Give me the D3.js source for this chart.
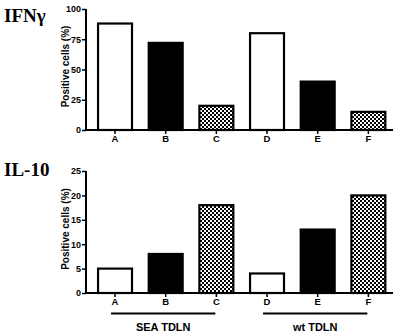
<!DOCTYPE html>
<html>
<head>
<meta charset="utf-8">
<script src="https://cdn.jsdelivr.net/npm/d3@7"></script>
<style>
  body { margin: 0; background: #fff; }
  .tick text { font-family: "Liberation Sans", Arial, sans-serif; font-weight: bold; }
</style>
</head>
<body>
<div id="chart"></div>
<script>
// Data
const categories = ["A", "B", "C", "D", "E", "F"];
const ifngValues = [88, 72, 20, 80, 40, 15];
const il10Values = [5, 8, 18, 4, 13, 20];
const ifngTicks = [0, 25, 50, 75, 100];
const il10Ticks = [0, 5, 10, 15, 20, 25];
const groupLabels = ["SEA TDLN", "wt TDLN"];
const groupSpans = [["A", "C"], ["D", "F"]];

const width = 397;
const height = 335;
const svg = d3.select("#chart").append("svg")
    .attr("width", width)
    .attr("height", height);

// checkered fill
const defs = svg.append("defs");
const pat = defs.append("pattern")
    .attr("id", "check")
    .attr("patternUnits", "userSpaceOnUse")
    .attr("width", 4).attr("height", 4);
pat.append("rect").attr("width", 4).attr("height", 4).attr("fill", "#fff");
pat.append("rect").attr("width", 2).attr("height", 2).attr("fill", "#000");
pat.append("rect").attr("x", 2).attr("y", 2).attr("width", 2).attr("height", 2).attr("fill", "#000");

const fillFor = i => ["#fff", "#000", "url(#check)"][i % 3];

const x = d3.scaleBand()
    .domain(categories)
    .range([89.7, 393.7])
    .paddingInner(0.33)
    .paddingOuter(0.165);

function drawPanel(values, ticks, yTop, yBottom, title, titleY) {
    const y = d3.scaleLinear()
        .domain([0, d3.max(ticks)])
        .range([yBottom, yTop]);

    svg.append("text")
        .attr("x", 4).attr("y", titleY)
        .attr("font-family", "'Liberation Serif', 'Times New Roman', serif")
        .attr("font-weight", "bold")
        .attr("font-size", 19)
        .text(title);

    // bars
    svg.append("g")
        .selectAll("rect")
        .data(values)
        .enter().append("rect")
        .attr("x", (d, i) => x(categories[i]))
        .attr("y", d => y(d))
        .attr("width", x.bandwidth())
        .attr("height", d => y(0) - y(d))
        .attr("fill", (d, i) => fillFor(i))
        .attr("stroke", "#000")
        .attr("stroke-width", 2.2);

    // y axis
    const yAxis = svg.append("g")
        .attr("transform", "translate(86,0)")
        .call(d3.axisLeft(y).tickValues(ticks).tickSize(4).tickPadding(1));
    yAxis.select(".domain").attr("stroke-width", 2).attr("d", `M0,${yTop}V${yBottom}`);
    yAxis.selectAll(".tick line").attr("stroke-width", 1.5);
    yAxis.selectAll(".tick text").attr("font-size", 9);

    // x axis
    const xAxis = svg.append("g")
        .attr("transform", `translate(0,${yBottom})`)
        .call(d3.axisBottom(x).tickSize(4).tickPadding(1));
    xAxis.select(".domain").attr("stroke-width", 2).attr("d", "M85,0H393");
    xAxis.selectAll(".tick line").attr("stroke-width", 1.5);
    xAxis.selectAll(".tick text").attr("font-size", 9.5);

    // y label
    svg.append("text")
        .attr("transform", `translate(69,${(yTop + yBottom) / 2 - 3}) rotate(-90)`)
        .attr("text-anchor", "middle")
        .attr("font-family", "'Liberation Sans', Arial, sans-serif")
        .attr("font-weight", "bold")
        .attr("font-size", 10)
        .text("Positive cells (%)");
}

drawPanel(ifngValues, ifngTicks, 9, 130, "IFNγ", 22);
drawPanel(il10Values, il10Ticks, 171, 293, "IL-10", 176);

// group brackets below lower panel
const center = c => x(c) + x.bandwidth() / 2;
groupSpans.forEach((span, i) => {
    const x0 = center(span[0]) - 4;
    const x1 = center(span[1]) - 1;
    svg.append("line")
        .attr("x1", x0).attr("x2", x1)
        .attr("y1", 313.5).attr("y2", 313.5)
        .attr("stroke", "#000").attr("stroke-width", 2);
    svg.append("text")
        .attr("x", (x0 + x1) / 2)
        .attr("y", 331)
        .attr("text-anchor", "middle")
        .attr("font-family", "'Liberation Sans', Arial, sans-serif")
        .attr("font-weight", "bold")
        .attr("font-size", 11)
        .text(groupLabels[i]);
});
</script>
</body>
</html>
